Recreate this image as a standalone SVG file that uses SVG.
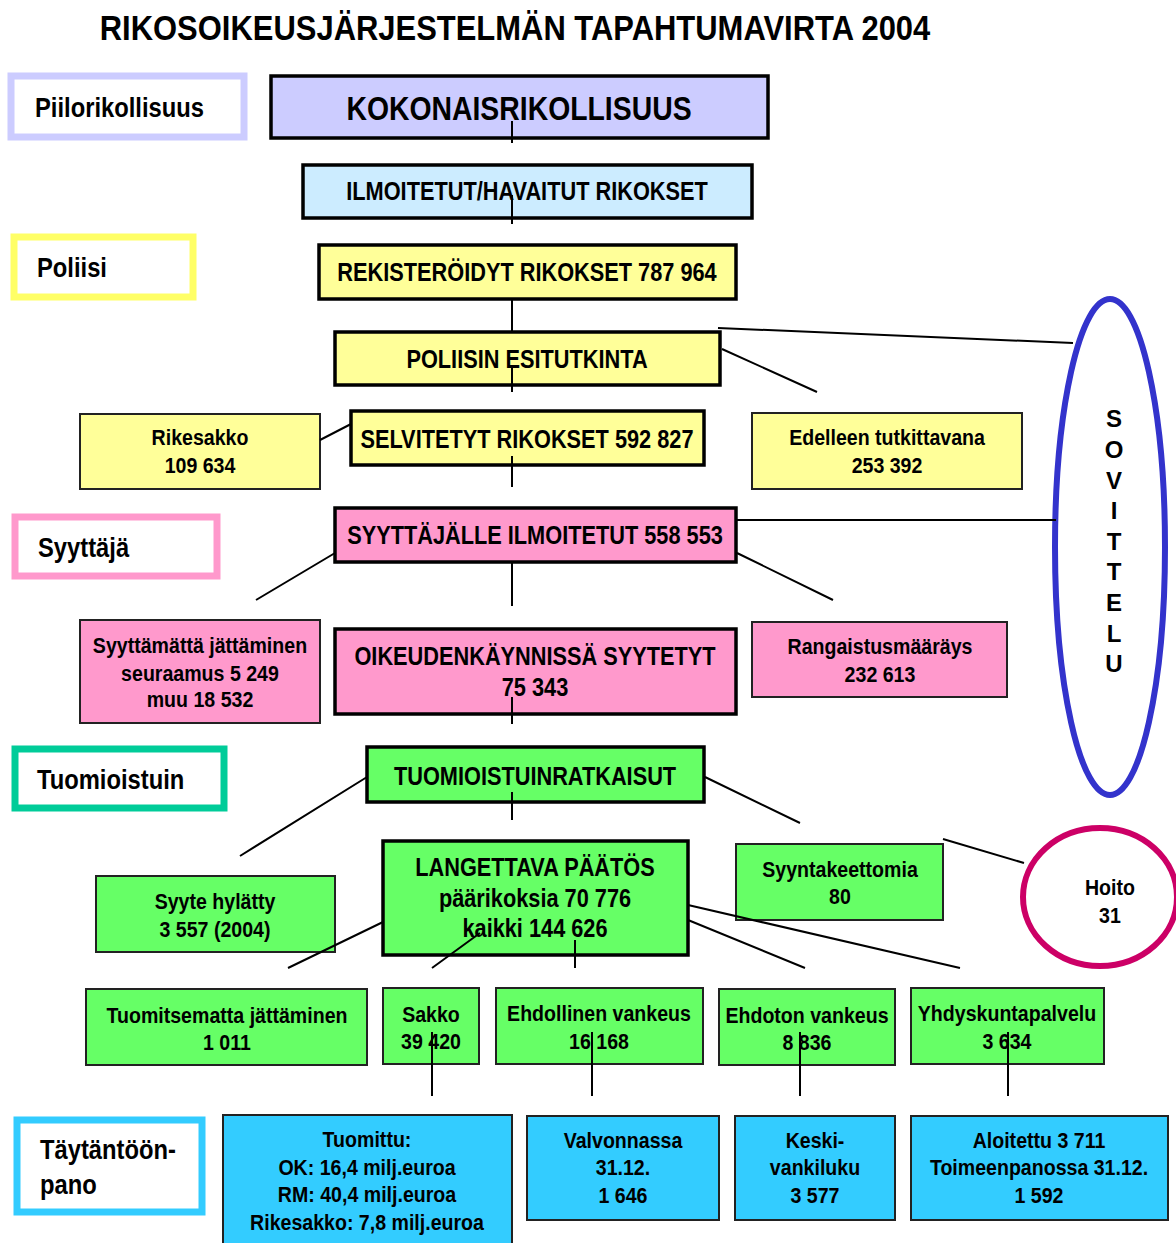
<svg xmlns="http://www.w3.org/2000/svg" width="1176" height="1243" viewBox="0 0 1176 1243">
<style>
text{font-family:"Liberation Sans",Arial,sans-serif;font-weight:bold;fill:#000;transform-box:fill-box;transform-origin:center;transform:scaleX(.87)}
.c{text-anchor:middle}
.t{font-size:36px;transform:scaleX(.86)}
.lab{font-size:27px;transform-origin:left center;transform:scaleX(.88)}
.big{font-size:33px;transform:scaleX(.86)}
.m{font-size:25px}
.s{font-size:22px;transform:scaleX(.89)}
.thick{stroke:#000;stroke-width:3.5}
.thin{stroke:#222;stroke-width:2}
.side{fill:#fff;stroke-width:7}
.y{fill:#FFFF99}.p{fill:#FF99CC}.g{fill:#66FF66}.b{fill:#33CCFF}
.ln{stroke:#000;stroke-width:2;fill:none}
.sov{font-size:24px;transform:none}
</style>
<rect width="1176" height="1243" fill="#fff"/>
<text class="t c" x="515" y="40">RIKOSOIKEUSJÄRJESTELMÄN TAPAHTUMAVIRTA 2004</text>

<g id="side-piilo"><rect class="side" x="11" y="76" width="233" height="61" stroke="#CCCCFF"/><text class="lab" x="35" y="117">Piilorikollisuus</text></g>
<g id="side-poliisi"><rect class="side" x="14" y="237" width="179" height="60" stroke="#FFFF66"/><text class="lab" x="37" y="277">Poliisi</text></g>
<g id="side-syyttaja"><rect class="side" x="15" y="517" width="202" height="59" stroke="#FF99CC"/><text class="lab" x="38" y="557">Syyttäjä</text></g>
<g id="side-tuomioistuin"><rect class="side" x="15" y="749" width="209" height="59" stroke="#00CC99"/><text class="lab" x="37" y="789">Tuomioistuin</text></g>
<g id="side-taytanto"><rect class="side" x="17" y="1120" width="185" height="92" stroke="#33CCFF"/><text class="lab" x="40" y="1159">Täytäntöön-</text><text class="lab" x="40" y="1194">pano</text></g>

<g id="kokonais"><rect class="thick" x="271" y="76" width="497" height="62" fill="#CCCCFF"/><text class="big c" x="519" y="120">KOKONAISRIKOLLISUUS</text></g>
<g id="ilmoitetut"><rect class="thick" x="303" y="165" width="449" height="53" fill="#CCECFF"/><text class="m c" x="527" y="200">ILMOITETUT/HAVAITUT RIKOKSET</text></g>
<g id="rekisteroidyt"><rect class="thick y" x="319" y="245" width="417" height="54"/><text class="m c" x="527" y="281">REKISTERÖIDYT RIKOKSET 787 964</text></g>
<g id="esitutkinta"><rect class="thick y" x="335" y="332" width="385" height="53"/><text class="m c" x="527" y="368">POLIISIN ESITUTKINTA</text></g>
<g id="selvitetyt"><rect class="thick y" x="351" y="411" width="353" height="54"/><text class="m c" x="527" y="448">SELVITETYT RIKOKSET 592 827</text></g>
<g id="rikesakko"><rect class="thin y" x="80" y="414" width="240" height="75"/><text class="s c" x="200" y="445">Rikesakko</text><text class="s c" x="200" y="473">109 634</text></g>
<g id="edelleen"><rect class="thin y" x="752" y="413" width="270" height="76"/><text class="s c" x="887" y="445">Edelleen tutkittavana</text><text class="s c" x="887" y="473">253 392</text></g>
<g id="syyttajalle"><rect class="thick p" x="335" y="508" width="401" height="54"/><text class="m c" x="535" y="544">SYYTTÄJÄLLE ILMOITETUT 558 553</text></g>
<g id="syyttamatta"><rect class="thin p" x="80" y="620" width="240" height="103"/><text class="s c" x="200" y="653">Syyttämättä jättäminen</text><text class="s c" x="200" y="681">seuraamus 5 249</text><text class="s c" x="200" y="707">muu 18 532</text></g>
<g id="oikeudenkaynnissa"><rect class="thick p" x="335" y="629" width="401" height="85"/><text class="m c" x="535" y="665">OIKEUDENKÄYNNISSÄ SYYTETYT</text><text class="m c" x="535" y="696">75 343</text></g>
<g id="rangaistus"><rect class="thin p" x="752" y="622" width="255" height="75"/><text class="s c" x="880" y="654">Rangaistusmääräys</text><text class="s c" x="880" y="682">232 613</text></g>
<g id="tuomioistuinratkaisut"><rect class="thick g" x="367" y="747" width="337" height="55"/><text class="m c" x="535" y="785">TUOMIOISTUINRATKAISUT</text></g>
<g id="langettava"><rect class="thick g" x="383" y="841" width="305" height="114"/><text class="m c" x="535" y="876">LANGETTAVA PÄÄTÖS</text><text class="m c" x="535" y="907">päärikoksia 70 776</text><text class="m c" x="535" y="937">kaikki 144 626</text></g>
<g id="syyte-hylatty"><rect class="thin g" x="96" y="876" width="239" height="76"/><text class="s c" x="215" y="909">Syyte hylätty</text><text class="s c" x="215" y="937">3 557 (2004)</text></g>
<g id="syyntakeettomia"><rect class="thin g" x="736" y="844" width="207" height="76"/><text class="s c" x="840" y="877">Syyntakeettomia</text><text class="s c" x="840" y="904">80</text></g>
<g id="hoito"><ellipse cx="1100" cy="897" rx="77" ry="69" fill="none" stroke="#CC0066" stroke-width="6"/><text class="s c" x="1110" y="895">Hoito</text><text class="s c" x="1110" y="923">31</text></g>
<g id="sovittelu"><ellipse cx="1110" cy="547" rx="55" ry="248" fill="none" stroke="#3333CC" stroke-width="6"/>
<text class="sov c" x="1114" y="427">S</text><text class="sov c" x="1114" y="458">O</text><text class="sov c" x="1114" y="489">V</text><text class="sov c" x="1114" y="519">I</text><text class="sov c" x="1114" y="550">T</text><text class="sov c" x="1114" y="580">T</text><text class="sov c" x="1114" y="611">E</text><text class="sov c" x="1114" y="642">L</text><text class="sov c" x="1114" y="672">U</text></g>

<g id="tuomitsematta"><rect class="thin g" x="86" y="989" width="281" height="76"/><text class="s c" x="227" y="1023">Tuomitsematta jättäminen</text><text class="s c" x="227" y="1050">1 011</text></g>
<g id="sakko"><rect class="thin g" x="383" y="988" width="96" height="76"/><text class="s c" x="431" y="1022">Sakko</text><text class="s c" x="431" y="1049">39 420</text></g>
<g id="ehdollinen"><rect class="thin g" x="496" y="988" width="207" height="76"/><text class="s c" x="599" y="1021">Ehdollinen vankeus</text><text class="s c" x="599" y="1049">16 168</text></g>
<g id="ehdoton"><rect class="thin g" x="719" y="989" width="176" height="76"/><text class="s c" x="807" y="1023">Ehdoton vankeus</text><text class="s c" x="807" y="1050">8 836</text></g>
<g id="yhdyskunta"><rect class="thin g" x="911" y="988" width="193" height="76"/><text class="s c" x="1007" y="1021">Yhdyskuntapalvelu</text><text class="s c" x="1007" y="1049">3 634</text></g>

<g id="tuomittu"><rect class="thin b" x="223" y="1115" width="289" height="140"/><text class="s c" x="367" y="1147">Tuomittu:</text><text class="s c" x="367" y="1175">OK: 16,4 milj.euroa</text><text class="s c" x="367" y="1202">RM: 40,4 milj.euroa</text><text class="s c" x="367" y="1230">Rikesakko: 7,8 milj.euroa</text></g>
<g id="valvonnassa"><rect class="thin b" x="527" y="1116" width="192" height="104"/><text class="s c" x="623" y="1148">Valvonnassa</text><text class="s c" x="623" y="1175">31.12.</text><text class="s c" x="623" y="1203">1 646</text></g>
<g id="keskivankiluku"><rect class="thin b" x="735" y="1116" width="160" height="104"/><text class="s c" x="815" y="1148">Keski-</text><text class="s c" x="815" y="1175">vankiluku</text><text class="s c" x="815" y="1203">3 577</text></g>
<g id="aloitettu"><rect class="thin b" x="911" y="1116" width="257" height="104"/><text class="s c" x="1039" y="1148">Aloitettu 3 711</text><text class="s c" x="1039" y="1175">Toimeenpanossa 31.12.</text><text class="s c" x="1039" y="1203">1 592</text></g>

<g id="connectors">
<path class="ln" stroke-width="2.5" d="M512 121V143M512 195V224M512 299V332M512 365V392M512 456V487M512 562V606M512 697V724M512 792V820M575 940V968"/>
<path class="ln" d="M432 1032V1096M592 1032V1096M800 1032V1096M1008 1032V1096"/>
<path class="ln" d="M718 328L1073 343M722 349L817 392M320 440L351 424M737 520H1056M335 553L256 600M737 553L833 600M367 777L240 856M705 777L800 823M943 839L1024 863M383 922L288 968M480 933L432 968M688 905L960 968M688 920L805 968"/>
</g>
</svg>
